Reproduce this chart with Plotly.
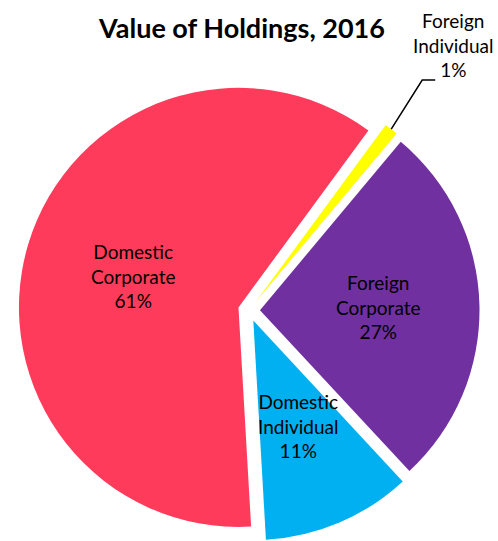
import math
import plotly.graph_objects as go

# slices, in drawing order (clockwise)
labels = ['Domestic Corporate', 'Foreign Individual', 'Foreign Corporate', 'Domestic Individual']
shares = [61, 1, 27, 11]
label_text = ['Domestic<br>Corporate', 'Foreign<br>Individual', 'Foreign<br>Corporate', 'Domestic<br>Individual']
colors = ['#FF3B5B', '#FFFF00', '#7030A0', '#00B0F0']

W, H = 498, 541
rotation = 176.7
pull = 0.05
cx, cy = 249, 310.5               # pie centre in pixels
half = H - cy                     # room below the centre decides the size
r = min(cx, half) / (1 + pull)
total = sum(shares)
FONT = 'Lato'
label_font = dict(family=FONT, size=19, color='black')


def slice_point(i, frac):
    # pixel point at frac*r along the middle of slice i, measured from its pulled apex
    start = rotation + 360 * sum(shares[:i]) / total
    mid = math.radians(start + 180 * shares[i] / total)
    d = r * (pull + frac)
    return cx + d * math.sin(mid), cy - d * math.cos(mid)


def paper(px, py):
    return px / W, 1 - py / H


fig = go.Figure(go.Pie(
    labels=labels,
    values=shares,
    text=label_text,
    texttemplate='%{text}<br>%{percent:.0%}',
    textposition=['inside', 'none', 'none', 'none'],
    insidetextorientation='horizontal',
    insidetextfont=label_font,
    marker=dict(colors=colors, line=dict(width=0)),
    pull=[pull] * len(shares),
    sort=False,
    direction='clockwise',
    rotation=rotation,
    domain=dict(x=[0, 2 * cx / W], y=[0, 2 * half / H]),
    hoverinfo='label+percent',
))

annotations = []
shapes = []


def add_label(i, px, py):
    x, y = paper(px, py)
    annotations.append(dict(
        x=x, y=y, xref='paper', yref='paper', showarrow=False,
        xanchor='center', yanchor='middle', align='center',
        text=f'{label_text[i]}<br>{shares[i]}%', font=label_font,
    ))


# Foreign Corporate and Domestic Individual labels inside their slices
add_label(2, *slice_point(2, 0.54))
add_label(3, *slice_point(3, 0.52))

# Foreign Individual: label outside with an elbow leader line
tx, ty = slice_point(1, 1.0)
ex, ey = tx + 31, ty - 49
fx, fy = ex + 13, ey
p0, p1, p2 = paper(tx, ty), paper(ex, ey), paper(fx, fy)
shapes.append(dict(
    type='path', xref='paper', yref='paper',
    path=f'M {p0[0]} {p0[1]} L {p1[0]} {p1[1]} L {p2[0]} {p2[1]}',
    line=dict(color='black', width=1.5),
))
add_label(1, ex + 31, ey - 35)

fig.update_layout(
    title=dict(
        text='<b>Value of Holdings, 2016</b>',
        font=dict(family=FONT, size=27, color='black'),
        x=242 / W, xanchor='center',
        y=1 - 29 / H, yanchor='middle',
    ),
    width=W,
    height=H,
    margin=dict(l=0, r=0, t=0, b=0),
    showlegend=False,
    paper_bgcolor='white',
    annotations=annotations,
    shapes=shapes,
)

# drop the default page margin so the 498x541 figure fills the window exactly
fig.write_html('out.html', config={'displayModeBar': False},
               post_script="document.body.style.margin = '0';")
